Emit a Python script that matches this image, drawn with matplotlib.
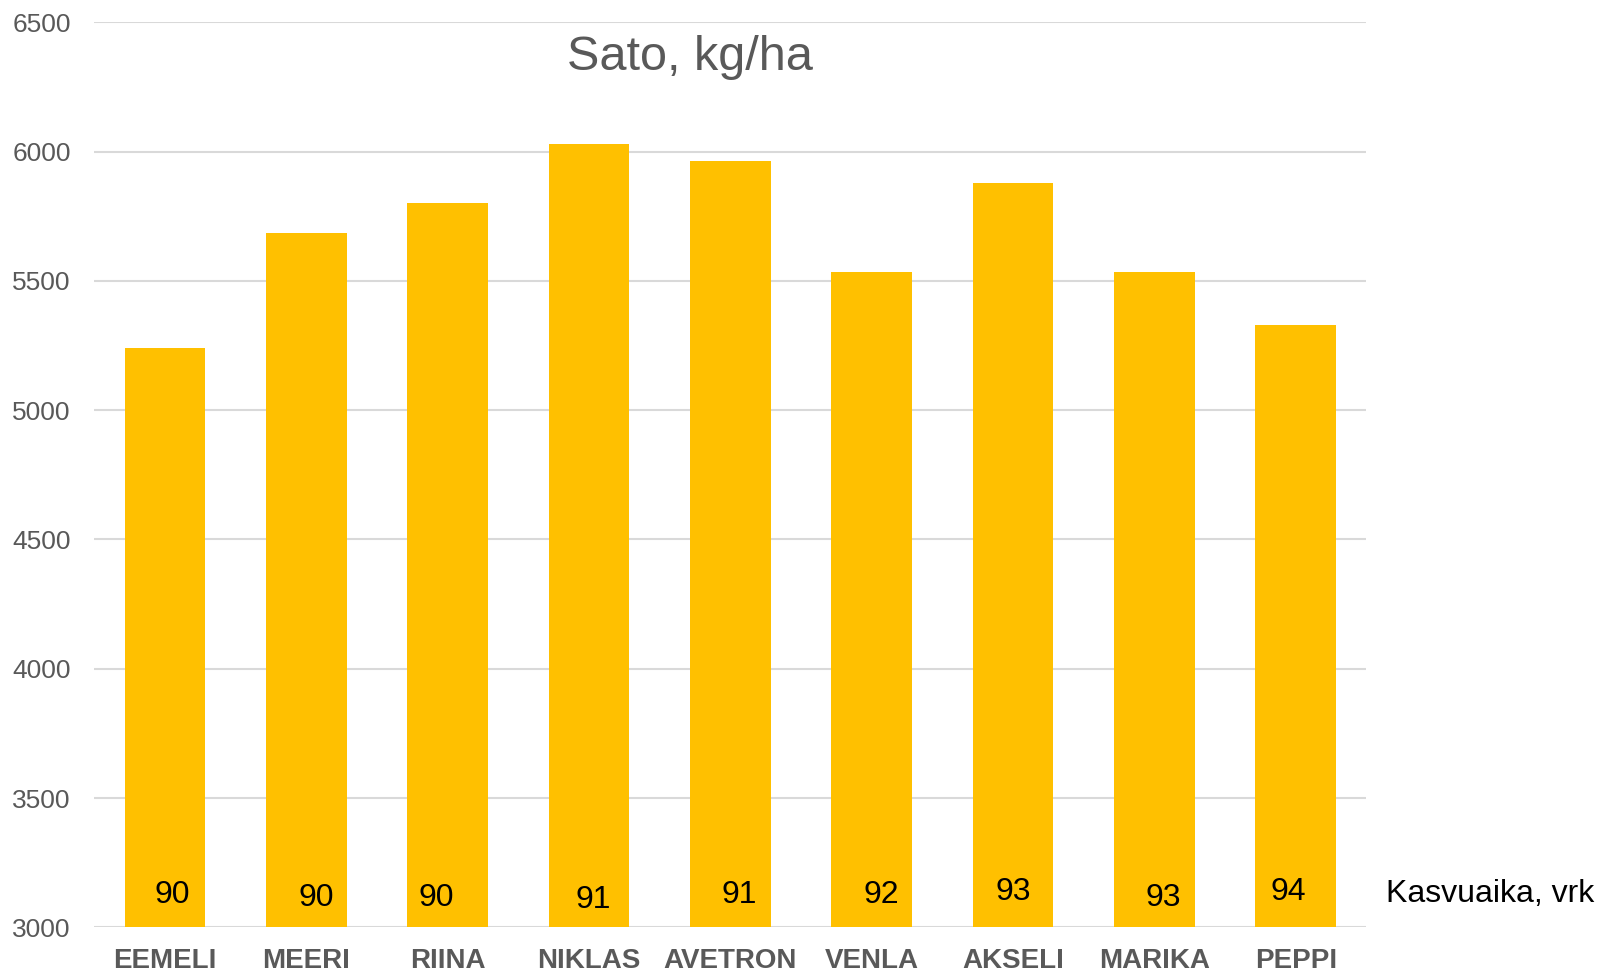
import numpy as np
import matplotlib.pyplot as plt

plt.rcParams['font.family'] = ['Liberation Sans', 'DejaVu Sans']

# lajikkeet, sato ja kasvuaika
lajikkeet = ["EEMELI", "MEERI", "RIINA", "NIKLAS", "AVETRON", "VENLA", "AKSELI", "MARIKA", "PEPPI"]
sato = [5240, 5685, 5800, 6030, 5965, 5535, 5878, 5533, 5330]
kasvuaika = [90, 90, 90, 91, 91, 92, 93, 93, 94]

# tekstien siirrot (kasin sijoitetut tekstilaatikot alkuperaisessa)
siirto_x = [0.054, 0.072, -0.079, 0.029, 0.065, 0.065, 0.0, 0.065, -0.05]
siirto_y = [3125, 3113, 3113, 3105, 3125, 3125, 3137, 3113, 3137]

harmaa = "#595959"

fig = plt.figure(figsize=(16, 9.71), dpi=100)
ax = fig.add_axes([0.059, 0.045, 0.795, 0.932])

x = np.arange(len(lajikkeet))
ax.bar(x, sato, width=0.57, color="#FFC000", zorder=2)

for xi, k, dx, yy in zip(x, kasvuaika, siirto_x, siirto_y):
    ax.text(xi + dx, yy, str(k), ha="center", va="center", fontsize=23, color="black", zorder=3)

ax.set_ylim(3000, 6500)
ax.set_xlim(-0.5, len(lajikkeet) - 0.5)
ax.set_yticks(np.arange(3000, 6501, 500))
ax.yaxis.grid(True, color="#d9d9d9", linewidth=1.5, zorder=0)
ax.set_axisbelow(True)
for s in ["top", "right", "left", "bottom"]:
    ax.spines[s].set_visible(False)
ax.tick_params(axis="y", length=0, labelsize=19, labelcolor=harmaa, pad=17)
ax.tick_params(axis="x", length=0, pad=15)
ax.set_xticks(x)
ax.set_xticklabels(lajikkeet, fontsize=20, fontweight="bold", color=harmaa)

fig.text(0.431, 0.941, "Sato, kg/ha", ha="center", va="center", fontsize=35, color=harmaa)
fig.text(0.866, 0.079, "Kasvuaika, vrk", ha="left", va="center", fontsize=23, color="black")

plt.savefig("out.png", dpi=100)
